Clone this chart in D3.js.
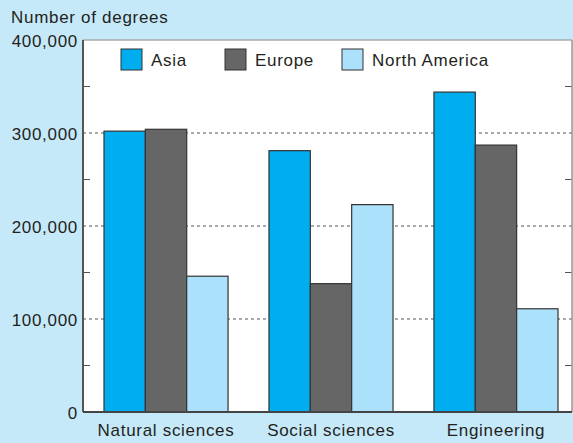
<!DOCTYPE html>
<html>
<head>
<meta charset="utf-8">
<script src="https://cdnjs.cloudflare.com/ajax/libs/d3/7.8.5/d3.min.js"></script>
<style>
  body { margin: 0; background: #c6e9f9; }
  svg text { font-family: "Liberation Sans", Arial, sans-serif; fill: #231f20; font-size: 17px; letter-spacing: 0.7px; }
</style>
</head>
<body>
<div id="chart"></div>
<script>
// Data
var categories = ["Natural sciences", "Social sciences", "Engineering"];
var seriesNames = ["Asia", "Europe", "North America"];
var asia = [302000, 281000, 344000];
var europe = [304000, 138000, 287000];
var northAmerica = [146000, 223000, 111000];
var yTicks = [0, 100000, 200000, 300000, 400000];
var yMinorTicks = [50000, 150000, 250000, 350000];
var colors = ["#00aeef", "#666666", "#abe1fa"];

var width = 573, height = 443;
var margin = {top: 40, right: 1, bottom: 31, left: 83};
var plotW = width - margin.left - margin.right,
    plotH = height - margin.top - margin.bottom;

var svg = d3.select("#chart").append("svg")
    .attr("width", width)
    .attr("height", height);

svg.append("rect")
    .attr("width", width).attr("height", height)
    .style("fill", "#c6e9f9");

var g = svg.append("g")
    .attr("transform", "translate(" + margin.left + "," + margin.top + ")");

// plot background
g.append("rect")
    .attr("width", plotW).attr("height", plotH)
    .style("fill", "#ffffff");

var x = d3.scaleBand()
    .domain(categories)
    .range([21, plotW - 14])
    .paddingInner(0.248)
    .paddingOuter(0);

var xs = d3.scaleBand()
    .domain(seriesNames)
    .range([0, x.bandwidth()]);

var y = d3.scaleLinear()
    .domain([0, 400000])
    .range([plotH, 0]);

// grid lines (dotted)
g.selectAll(".grid")
    .data(yTicks.filter(function(d) { return d > 0 && d < 400000; }))
    .enter().append("line")
    .attr("class", "grid")
    .attr("x1", 0).attr("x2", plotW)
    .attr("y1", function(d) { return y(d); })
    .attr("y2", function(d) { return y(d); })
    .style("stroke", "#555")
    .style("stroke-width", 1.2)
    .style("stroke-dasharray", "3,3");

// minor ticks left and right
g.selectAll(".minorL")
    .data(yMinorTicks)
    .enter().append("line")
    .attr("x1", 0).attr("x2", 7)
    .attr("y1", function(d) { return y(d); })
    .attr("y2", function(d) { return y(d); })
    .style("stroke", "#555").style("stroke-width", 1);
g.selectAll(".minorR")
    .data(yMinorTicks)
    .enter().append("line")
    .attr("x1", plotW - 7).attr("x2", plotW)
    .attr("y1", function(d) { return y(d); })
    .attr("y2", function(d) { return y(d); })
    .style("stroke", "#555").style("stroke-width", 1);

// bars
var seriesData = [asia, europe, northAmerica];
var group = g.selectAll(".group")
    .data(categories)
    .enter().append("g")
    .attr("class", "group")
    .attr("transform", function(d) { return "translate(" + x(d) + ",0)"; });

group.selectAll("rect")
    .data(function(d, i) {
        return seriesNames.map(function(s, j) { return {series: s, value: seriesData[j][i], idx: j}; });
    })
    .enter().append("rect")
    .attr("x", function(d) { return xs(d.series); })
    .attr("y", function(d) { return y(d.value); })
    .attr("width", xs.bandwidth())
    .attr("height", function(d) { return plotH - y(d.value); })
    .style("fill", function(d) { return colors[d.idx]; })
    .style("stroke", "#333")
    .style("stroke-width", 1.2);

// frame
g.append("line").attr("x1", 0).attr("x2", plotW).attr("y1", 0).attr("y2", 0)
    .style("stroke", "#aaa").style("stroke-width", 1.5);
g.append("line").attr("x1", plotW).attr("x2", plotW).attr("y1", 0).attr("y2", plotH)
    .style("stroke", "#999").style("stroke-width", 1.5);
g.append("line").attr("x1", 0).attr("x2", 0).attr("y1", 0).attr("y2", plotH)
    .style("stroke", "#555").style("stroke-width", 2);
g.append("line").attr("x1", 0).attr("x2", plotW).attr("y1", plotH).attr("y2", plotH)
    .style("stroke", "#444").style("stroke-width", 2);

// y axis labels
var yAxis = d3.axisLeft(y)
    .tickValues(yTicks)
    .tickSize(0)
    .tickPadding(5)
    .tickFormat(d3.format(","));
var ya = g.append("g").call(yAxis);
ya.select(".domain").remove();
ya.selectAll("text")
    .attr("dy", "0.36em")
    .style("font-size", "17px")
    .style("font-family", '"Liberation Sans", Arial, sans-serif')
    .style("fill", "#231f20");

// x axis labels
var xAxis = d3.axisBottom(x).tickSize(0).tickPadding(12);
var xa = g.append("g")
    .attr("transform", "translate(0," + plotH + ")")
    .call(xAxis);
xa.select(".domain").remove();
xa.selectAll("text")
    .style("font-size", "17px")
    .style("font-family", '"Liberation Sans", Arial, sans-serif')
    .style("fill", "#231f20");

// y title
svg.append("text")
    .attr("x", 11).attr("y", 23)
    .text("Number of degrees");

// legend
var legendX = [38, 142, 259];
var legend = g.selectAll(".legend")
    .data(seriesNames)
    .enter().append("g")
    .attr("class", "legend")
    .attr("transform", function(d, i) { return "translate(" + legendX[i] + ",9)"; });
legend.append("rect")
    .attr("width", 21).attr("height", 21)
    .style("fill", function(d, i) { return colors[i]; })
    .style("stroke", "#333").style("stroke-width", 1);
legend.append("text")
    .attr("x", 30).attr("y", 17)
    .text(function(d) { return d; });
</script>
</body>
</html>
